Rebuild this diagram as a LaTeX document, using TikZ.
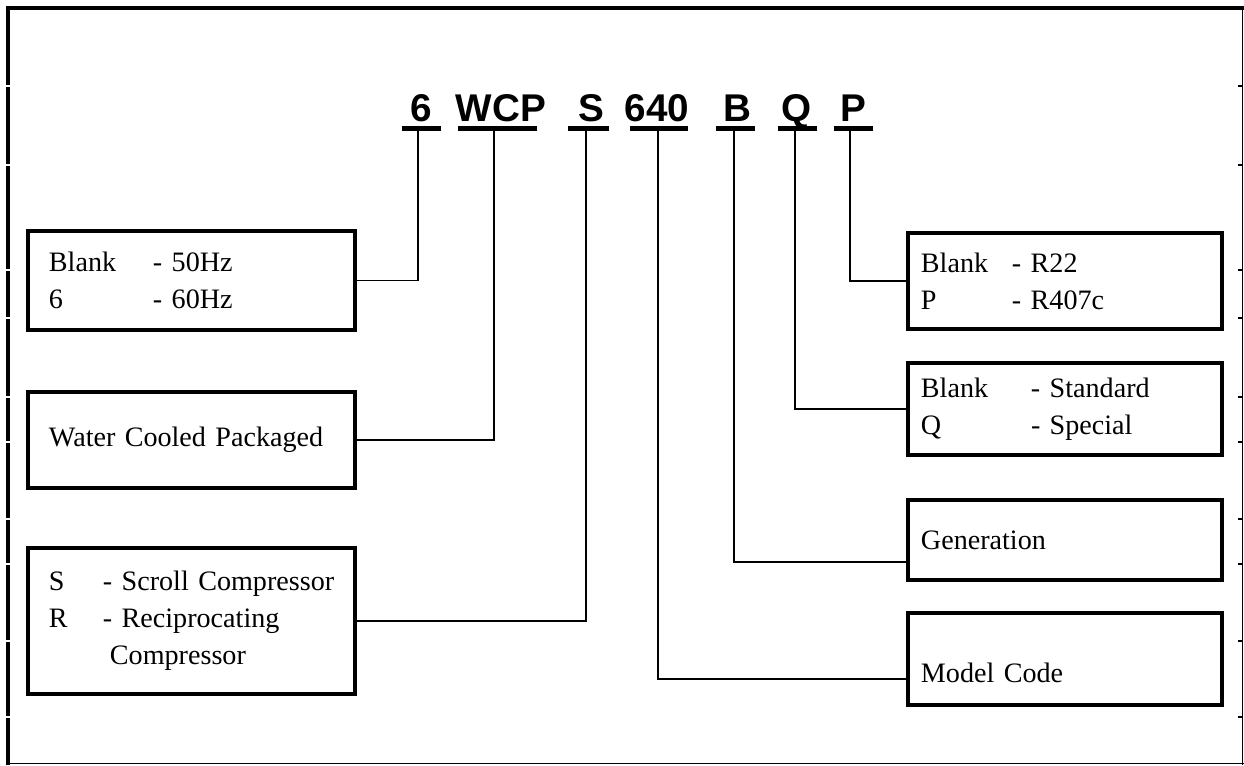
\documentclass[tikz,border=0pt]{standalone}
\usepackage{fontspec}
\setmainfont{Liberation Serif}
\newfontfamily\codefont{Liberation Sans}

\tikzset{
  frame/.style={line width=2.8pt},
  hair/.style={line width=1pt},
  code/.style={anchor=base, inner sep=0pt, font=\codefont\bfseries\fontsize{27.5}{30}\selectfont},
  uline/.style={line width=3.3pt},
  link/.style={line width=1.1pt},
  keybox/.style={draw, line width=2.4pt, align=left, inner ysep=0pt,
    font=\fontsize{20}{26.3}\selectfont},
  lbox/.style={keybox, minimum width=8.175cm, text width=7.125cm, inner xsep=0.525cm},
  rbox/.style={keybox, minimum width=7.85cm, text width=7.2cm, inner xsep=0.325cm}
}

\begin{document}
\begin{tikzpicture}[x=0.025cm, y=-0.025cm]
  \useasboundingbox (0,0) rectangle (1244,765);

  % page frame, heavy on top and left
  \draw[frame] (8,765) -- (8,8) -- (1244,8);
  \draw[hair] (1242.5,8) -- (1242.5,765);
  \draw[hair] (8,763.5) -- (1244,763.5);
  \foreach \y in {86,165,270,318,397,442,519,564,641,717} {
    \draw[white, line width=0.8pt] (5,\y) -- (11,\y);
    \draw[hair] (1238,\y) -- (1242.5,\y);
  }

  % model number
  \node[code] (c6)   at (421,121) {6};
  \node[code] (cwcp) at (501,121) {WCP};
  \node[code] (cs)   at (591,121) {S};
  \node[code] (c640) at (657,121) {640};
  \node[code] (cb)   at (737,121) {B};
  \node[code] (cq)   at (797,121) {Q};
  \node[code] (cp)   at (853,121) {P};
  \foreach \a/\b in {402/441,458/537,568/609,630/688,716/755,778/817,834/873}
    \draw[uline] (\a,128.5) -- (\b,128.5);

  % stem feet under each field
  \coordinate (t6)   at (418,129);
  \coordinate (twcp) at (494,129);
  \coordinate (ts)   at (586,129);
  \coordinate (t640) at (658,129);
  \coordinate (tb)   at (734,129);
  \coordinate (tq)   at (795,129);
  \coordinate (tp)   at (850,129);

  % left column
  \node[lbox, minimum height=2.475cm] (hz) at (191.5,280.5)
    {\makebox[2.6cm][l]{Blank}- 50Hz\\ \makebox[2.6cm][l]{6}- 60Hz};
  \node[lbox, minimum height=2.4cm] (wcp) at (191.5,440)
    {\mbox{Water Cooled Packaged}};
  \node[lbox, minimum height=3.65cm] (comp) at (191.5,621)
    {\mbox{\makebox[1.35cm][l]{S}- Scroll Compressor}\\
     \mbox{\makebox[1.35cm][l]{R}- Reciprocating}\\
     \hspace*{1.525cm}Compressor};

  % right column
  \node[rbox, minimum height=2.4cm] (ref) at (1065,281)
    {\makebox[2.275cm][l]{Blank}- R22\\ \makebox[2.275cm][l]{P}- R407c};
  \node[rbox, minimum height=2.3cm] (opt) at (1065,409)
    {\makebox[2.75cm][l]{Blank}- Standard\\ \makebox[2.75cm][l]{Q}- Special};
  \node[rbox, minimum height=2cm] (gen) at (1065,540) {Generation};
  \node[rbox, minimum height=2.3cm, text height=34pt, text depth=0pt] (model)
    at (1065,659) {Model Code};

  % leaders
  \draw[link] (t6) |- (hz.east);
  \draw[link] (twcp) |- (wcp.east);
  \draw[link] (ts) |- (comp.east);
  \draw[link] (t640) |- ([yshift=-0.5cm]model.west);
  \draw[link] (tb) |- ([yshift=-0.55cm]gen.west);
  \draw[link] (tq) |- (opt.west);
  \draw[link] (tp) |- (ref.west);
\end{tikzpicture}
\end{document}
